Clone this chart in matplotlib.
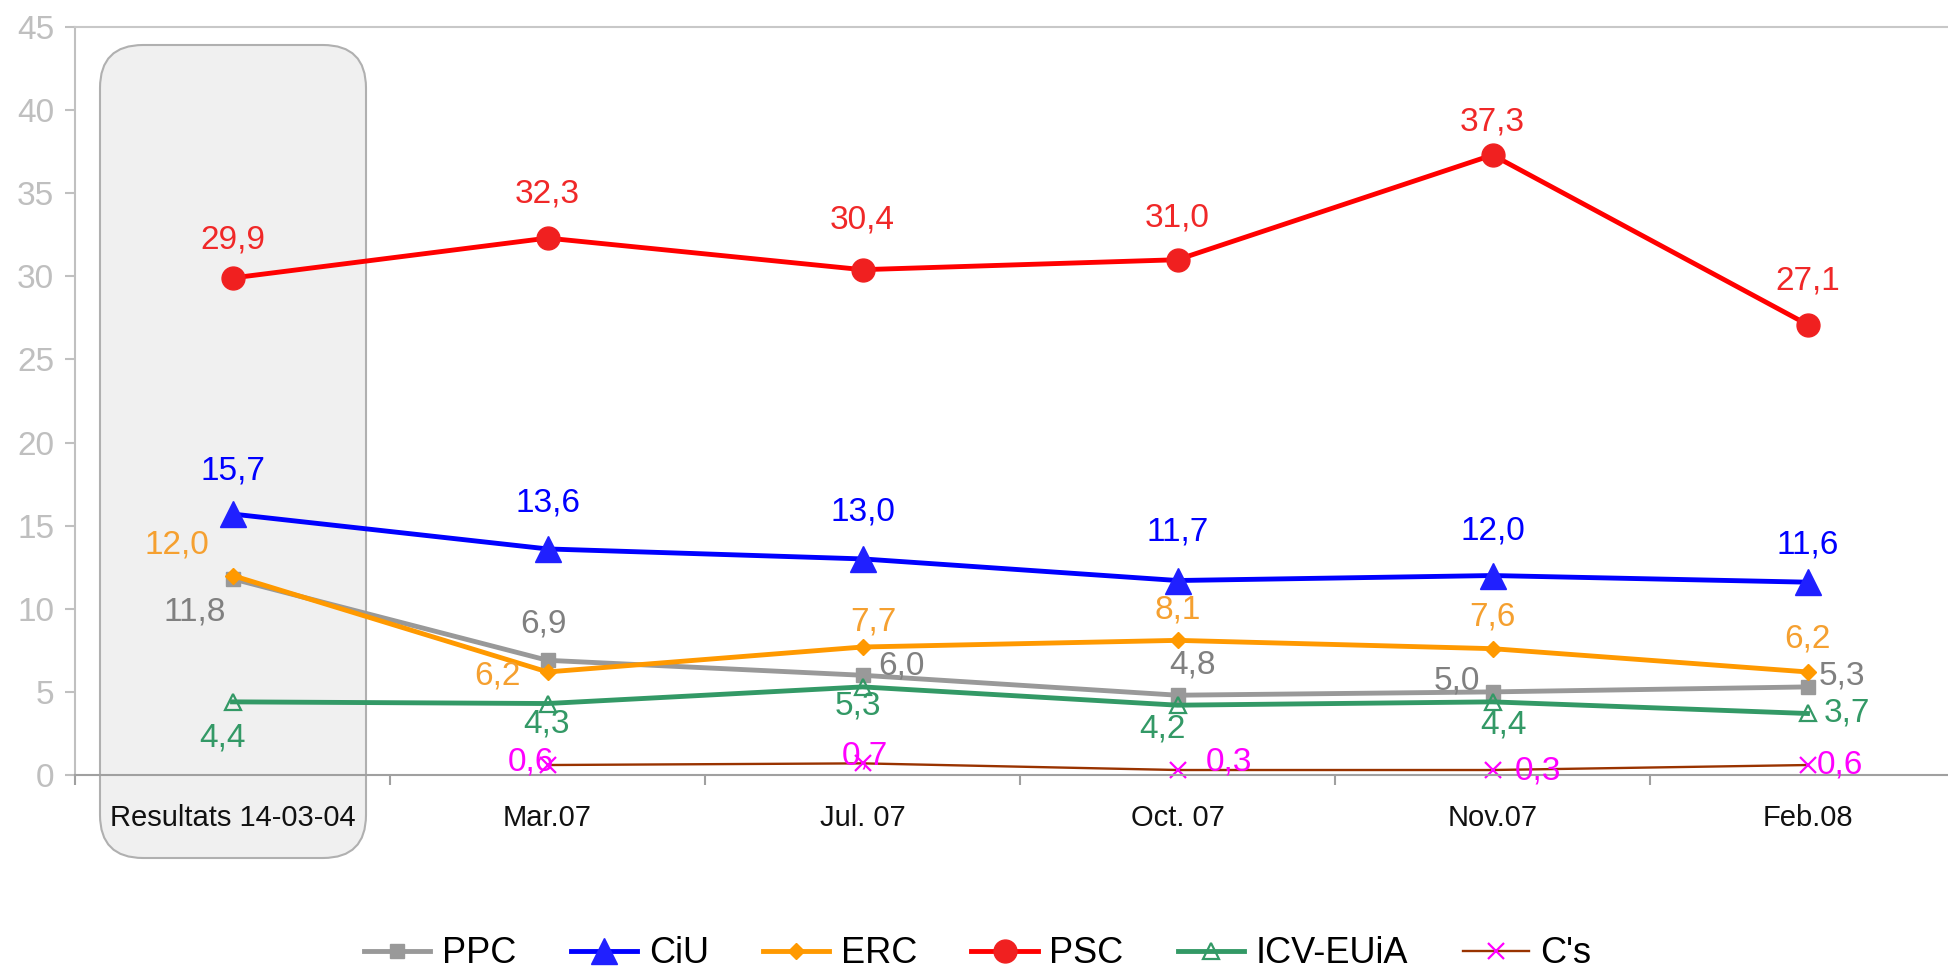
import numpy as np
import matplotlib
matplotlib.use("Agg")
import matplotlib.pyplot as plt
from matplotlib.patches import FancyBboxPatch

plt.rcParams["font.family"] = ["Liberation Sans", "DejaVu Sans"]

# Poll series (vote estimate, %)
periods = ["Resultats 14-03-04", "Mar.07", "Jul. 07", "Oct. 07", "Nov.07", "Feb.08"]
ppc = [11.8, 6.9, 6.0, 4.8, 5.0, 5.3]
ciu = [15.7, 13.6, 13.0, 11.7, 12.0, 11.6]
erc = [12.0, 6.2, 7.7, 8.1, 7.6, 6.2]
psc = [29.9, 32.3, 30.4, 31.0, 37.3, 27.1]
icv = [4.4, 4.3, 5.3, 4.2, 4.4, 3.7]
cs = [np.nan, 0.6, 0.7, 0.3, 0.3, 0.6]

# label offsets in points, one per point
off_ppc = [(-27, -24), (-3, 26), (28, 7), (11, 22), (-26, 8), (25, 8)]
off_ciu = [(0, 31), (0, 33), (0, 34), (0, 35), (0, 32), (0, 27)]
off_erc = [(-40, 22), (-36, -3), (8, 18), (0, 22), (0, 23), (0, 24)]
off_psc = [(0, 27), (0, 32), (0, 36), (0, 30), (0, 24), (0, 31)]
off_icv = [(-7, -26), (-1, -15), (-3, -14), (-11, -17), (8, -17), (28, 0)]
off_cs = [None, (-12, 2), (2, 5), (37, 6), (33, -1), (23, 0)]

series = [
    # name, values, line colour, label colour, marker kwargs, line width, offsets
    ("PPC", ppc, "#999999", "#808080", dict(marker="s", ms=10), 3.5, off_ppc),
    ("CiU", ciu, "#0000ff", "#0000ff", dict(marker="^", ms=19, mfc="#2020ff", mec="#2020ff"), 3.5, off_ciu),
    ("ERC", erc, "#ff9900", "#f5a030", dict(marker="D", ms=8), 3.5, off_erc),
    ("PSC", psc, "#ff0000", "#f02828", dict(marker="o", ms=16.5, mfc="#f02020", mec="#f02020"), 3.5, off_psc),
    ("ICV-EUiA", icv, "#339966", "#339966", dict(marker="^", ms=11, mfc="none", mew=1.6), 3.5, off_icv),
    ("C's", cs, "#993300", "#ff00ff", dict(marker="x", ms=11, mec="#ff00ff", mew=1.6), 1.7, off_cs),
]

fig = plt.figure(figsize=(19.48, 9.68), dpi=100)
ax = fig.add_axes([75 / 1948, 1 - 775 / 968, 1890 / 1948, 748 / 968])
ax.set_facecolor("none")

# grey rounded panel behind the election-result column
panel = FancyBboxPatch((1.00, 1.10), 2.66, 8.13,
                       boxstyle="round,pad=0,rounding_size=0.43",
                       transform=fig.dpi_scale_trans,
                       facecolor="#f0f0f0", edgecolor="#b0b0b0", lw=1.5, zorder=-1)
fig.add_artist(panel)

x = np.arange(len(periods))
for name, vals, col, lcol, mk, lw, offs in series:
    ax.plot(x, vals, color=col, lw=lw, label=name, clip_on=False, **mk)
    for xi, v, off in zip(x, vals, offs):
        if off is None or np.isnan(v):
            continue
        ax.annotate(f"{v:.1f}".replace(".", ","), (xi, v), xytext=off,
                    textcoords="offset points", ha="center", va="center",
                    fontsize=24, color=lcol)

ax.set_xlim(-0.5, 5.5)
ax.set_ylim(0, 45)
ax.set_yticks(np.arange(0, 46, 5))
ax.set_xticks(x)
ax.set_xticklabels(periods, fontsize=21, color="#111111")
ax.set_xticks(np.arange(-0.5, 6, 1), minor=True)
ax.tick_params(axis="x", which="major", length=0, pad=21)
ax.tick_params(axis="x", which="minor", length=7, width=1.5, color="#a0a0a0", direction="out")
ax.tick_params(axis="y", length=7, width=1.5, color="#c0c0c0", labelcolor="#bfbfbf",
               labelsize=24, pad=8)

ax.spines["right"].set_visible(False)
ax.spines["left"].set_color("#c0c0c0")
ax.spines["left"].set_linewidth(1.5)
ax.spines["top"].set_color("#c8c8c8")
ax.spines["top"].set_linewidth(1.5)
ax.spines["bottom"].set_color("#a0a0a0")
ax.spines["bottom"].set_linewidth(1.5)

fig.legend(loc="center", bbox_to_anchor=(0.502, 0.0145), ncol=6, frameon=False,
           fontsize=26, handlelength=1.83, handletextpad=0.33, columnspacing=1.5)

fig.savefig("out.png", dpi=100)
